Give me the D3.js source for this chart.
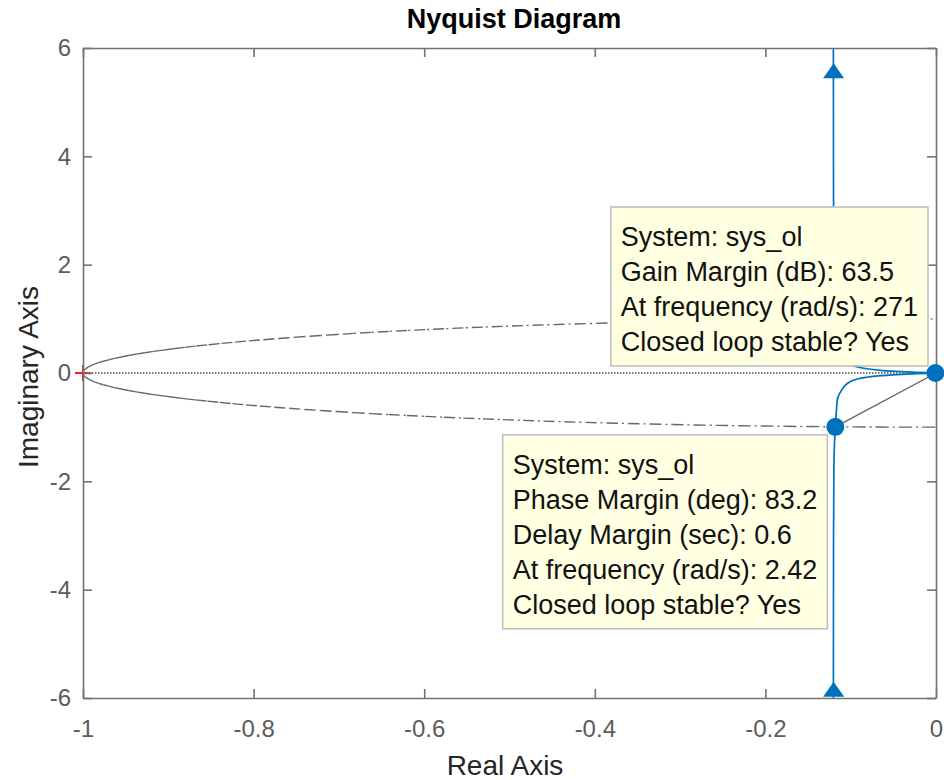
<!DOCTYPE html>
<html>
<head>
<meta charset="utf-8">
<script src="https://cdn.jsdelivr.net/npm/d3@7"></script>
<style>
  html, body { margin: 0; padding: 0; background: #fff; }
  svg { display: block; font-family: "Liberation Sans", Arial, Helvetica, sans-serif; }
</style>
</head>
<body>
<svg id="chart" width="944" height="780"></svg>
<script>
// Nyquist branch for positive frequencies (from -j∞ up to the origin)
const branchRe = [-0.1205, -0.1203, -0.1201, -0.1197, -0.1190, -0.1180, -0.1164, -0.1150, -0.1106, -0.1060, -0.1008, -0.0920, -0.0812, -0.0650, -0.0461, -0.0280, -0.0109, 0];
const branchIm = [-40, -6, -3, -1.8, -1.3, -0.993, -0.622, -0.45, -0.314, -0.22, -0.161, -0.11, -0.079, -0.05, -0.031, -0.016, -0.006, 0];

// Direction arrows on the branches
const arrowRe = [-0.12, -0.12];
const arrowIm = [5.58, -5.84];

// Stability margin markers
const gmPoint = { re: -0.00067, im: 0 };
const pmPoint = { re: -0.118, im: -0.993 };
const critical = { re: -1, im: 0 };

const gainTip = ["System: sys_ol", "Gain Margin (dB): 63.5", "At frequency (rad/s): 271", "Closed loop stable? Yes"];
const phaseTip = ["System: sys_ol", "Phase Margin (deg): 83.2", "Delay Margin (sec): 0.6", "At frequency (rad/s): 2.42", "Closed loop stable? Yes"];

const xTicks = [-1, -0.8, -0.6, -0.4, -0.2, 0];
const yTicks = [-6, -4, -2, 0, 2, 4, 6];

const W = 944, H = 780;
const margin = { top: 48, right: 8, bottom: 82, left: 83 };
const pw = W - margin.left - margin.right;
const ph = H - margin.top - margin.bottom;

const svg = d3.select("#chart");
const x = d3.scaleLinear().domain([-1, 0]).range([0, pw]);
const y = d3.scaleLinear().domain([-6, 6]).range([ph, 0]);

const g = svg.append("g").attr("transform", `translate(${margin.left},${margin.top})`);

g.append("defs").append("clipPath").attr("id", "plotClip")
  .append("rect").attr("x", 0).attr("y", 0).attr("width", pw).attr("height", ph);

const plot = g.append("g").attr("clip-path", "url(#plotClip)");

// zero line along the real axis
plot.append("line")
  .attr("x1", x(-1)).attr("x2", x(0)).attr("y1", y(0)).attr("y2", y(0))
  .attr("stroke", "#4a4a4a").attr("stroke-width", 1.6)
  .attr("stroke-dasharray", "1.5,1.5");

// unit circle, dash-dot; each segment starts its own dash pattern
const nSeg = 230;
const circ = d3.range(nSeg + 1).map(i => (i / nSeg) * 2 * Math.PI);
const circG = plot.append("g");
for (let i = 0; i < nSeg; i++) {
  const a0 = circ[i], a1 = circ[i + 1];
  if (Math.cos(a0) > 0.05 && Math.cos(a1) > 0.05) continue;
  circG.append("line")
    .attr("x1", x(Math.cos(a0))).attr("y1", y(Math.sin(a0)))
    .attr("x2", x(Math.cos(a1))).attr("y2", y(Math.sin(a1)))
    .attr("stroke", "#666").attr("stroke-width", 1.4)
    .attr("stroke-dasharray", "11,4,2,4");
}

// line from origin to the phase-margin crossing
plot.append("line")
  .attr("x1", x(0)).attr("y1", y(0))
  .attr("x2", x(pmPoint.re)).attr("y2", y(pmPoint.im))
  .attr("stroke", "#666").attr("stroke-width", 1.4);

// Nyquist curve: positive frequencies and the mirrored negative frequencies
const branch = branchRe.map((r, i) => ({ re: r, im: branchIm[i] }));
const mirror = branch.map(d => ({ re: d.re, im: -d.im }));
const lineGen = d3.line().x(d => x(d.re)).y(d => y(d.im)).curve(d3.curveCatmullRom.alpha(0.5));
[branch, mirror].forEach(b => {
  plot.append("path").datum(b)
    .attr("d", lineGen)
    .attr("fill", "none").attr("stroke", "#0072BD").attr("stroke-width", 1.7);
});

// direction arrows
const triW = 21, triH = 15;
arrowRe.forEach((r, i) => {
  const cx = x(r), cy = y(arrowIm[i]);
  plot.append("path")
    .attr("d", `M${cx},${cy - triH / 2} L${cx + triW / 2},${cy + triH / 2} L${cx - triW / 2},${cy + triH / 2} Z`)
    .attr("fill", "#0072BD");
});

// critical point -1 + j0
const cxp = x(critical.re), cyp = y(critical.im);
g.append("path")
  .attr("d", `M${cxp - 8},${cyp} H${cxp + 8} M${cxp},${cyp - 8} V${cyp + 8}`)
  .attr("stroke", "#ff1a1a").attr("stroke-width", 2);

// axes box with inward ticks
const fmt = d => (d === 0 ? "0" : String(d));
const xAxis = g.append("g").attr("transform", `translate(0,${ph})`)
  .call(d3.axisBottom(x).tickValues(xTicks).tickFormat(fmt).tickSizeInner(-9).tickSizeOuter(0).tickPadding(22));
const xAxisTop = g.append("g")
  .call(d3.axisTop(x).tickValues(xTicks).tickFormat("").tickSizeInner(-9).tickSizeOuter(0));
const yAxis = g.append("g")
  .call(d3.axisLeft(y).tickValues(yTicks).tickFormat(fmt).tickSizeInner(-9).tickSizeOuter(0).tickPadding(12));
const yAxisRight = g.append("g").attr("transform", `translate(${pw},0)`)
  .call(d3.axisRight(y).tickValues(yTicks).tickFormat("").tickSizeInner(-9).tickSizeOuter(0));

[xAxis, xAxisTop, yAxis, yAxisRight].forEach(a => {
  a.select(".domain").attr("stroke", "#737373").attr("stroke-width", 1.6);
  a.selectAll(".tick line").attr("stroke", "#737373").attr("stroke-width", 1.6);
  a.selectAll(".tick text").attr("fill", "#5c5c5c").style("font-size", "24px")
    .style("font-family", "'Liberation Sans', Arial, sans-serif");
});

// margin markers
[gmPoint, pmPoint].forEach(p => {
  g.append("circle").attr("cx", x(p.re)).attr("cy", y(p.im)).attr("r", 9)
    .attr("fill", "#0072BD");
});

// data tips
function dataTip(lines, anchor, placeAbove) {
  const ax = x(anchor.re), ay = y(anchor.im);
  const tip = g.append("g");
  const rect = tip.append("rect").attr("fill", "#ffffe1")
    .attr("stroke", "#bdbdbd").attr("stroke-width", 1.5);
  const lineH = 35, padX = 10;
  const txt = tip.append("g");
  lines.forEach((s, i) => {
    txt.append("text").attr("y", 39 + i * lineH).attr("x", padX)
      .attr("fill", "#111").style("font-size", "27px").text(s);
  });
  let maxW = 0;
  txt.selectAll("text").each(function () { maxW = Math.max(maxW, this.getComputedTextLength()); });
  const bw = maxW + 2 * padX;
  const bh = lines.length * lineH + 19;
  const bx = ax - 8 - bw;
  const by = placeAbove ? ay - 7 - bh : ay + 8;
  rect.attr("x", 0).attr("y", 0).attr("width", bw).attr("height", bh);
  tip.attr("transform", `translate(${bx},${by})`);
}
dataTip(gainTip, { re: 0, im: 0 }, true);
dataTip(phaseTip, pmPoint, false);

// labels
svg.append("text").attr("x", 514).attr("y", 28)
  .attr("text-anchor", "middle").attr("fill", "#000")
  .style("font-size", "27px").style("font-weight", "bold").text("Nyquist Diagram");
svg.append("text").attr("x", 505).attr("y", 775)
  .attr("text-anchor", "middle").attr("fill", "#262626")
  .style("font-size", "28px").text("Real Axis");
svg.append("text").attr("transform", `translate(38,${margin.top + ph / 2 + 4}) rotate(-90)`)
  .attr("text-anchor", "middle").attr("fill", "#262626")
  .style("font-size", "28px").text("Imaginary Axis");
</script>
</body>
</html>
